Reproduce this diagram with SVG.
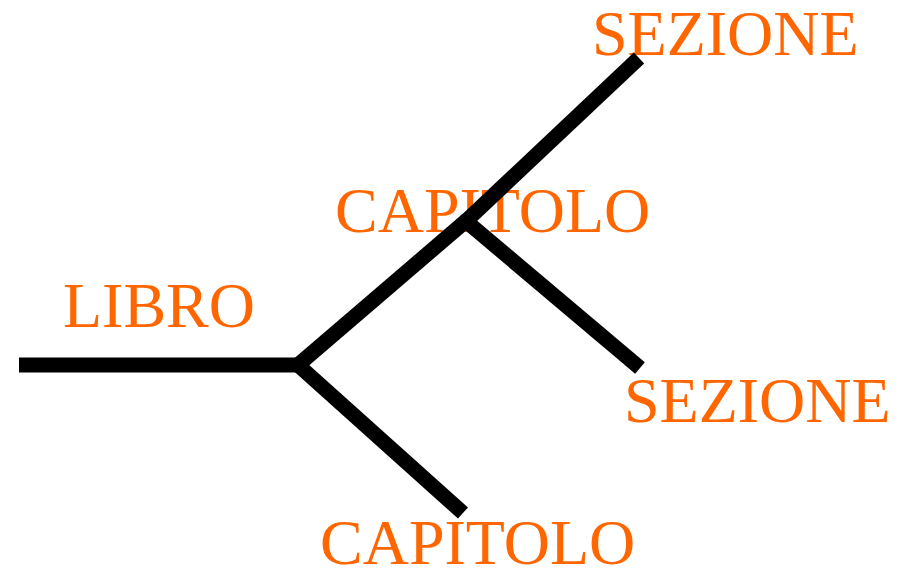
<svg xmlns="http://www.w3.org/2000/svg" width="907" height="571" viewBox="0 0 907 571">
  <style>
    .edge { stroke: #000; stroke-width: 15; fill: none; stroke-linecap: butt; stroke-linejoin: miter; }
    .label { font-family: "Liberation Serif", "Times New Roman", serif; font-size: 64px; fill: #FF6600; }
  </style>
  <rect width="907" height="571" fill="#fff"/>
  <g id="libro"><text class="label" x="63" y="327">LIBRO</text></g>
  <g id="capitolo-1"><text class="label" x="335" y="232">CAPITOLO</text></g>
  <g id="capitolo-2"><text class="label" x="320" y="564">CAPITOLO</text></g>
  <g id="sezione-1"><text class="label" x="592" y="55">SEZIONE</text></g>
  <g id="sezione-2"><text class="label" x="624" y="422">SEZIONE</text></g>
  <!-- tree branches, drawn over the labels -->
  <g id="connectors">
    <line class="edge" x1="19" y1="365" x2="300" y2="365"/>
    <line class="edge" x1="298" y1="365" x2="467" y2="220"/>
    <line class="edge" x1="465" y1="222" x2="639" y2="58"/>
    <line class="edge" x1="467" y1="222" x2="640" y2="368"/>
    <line class="edge" x1="298" y1="365" x2="463" y2="513"/>
  </g>
</svg>
